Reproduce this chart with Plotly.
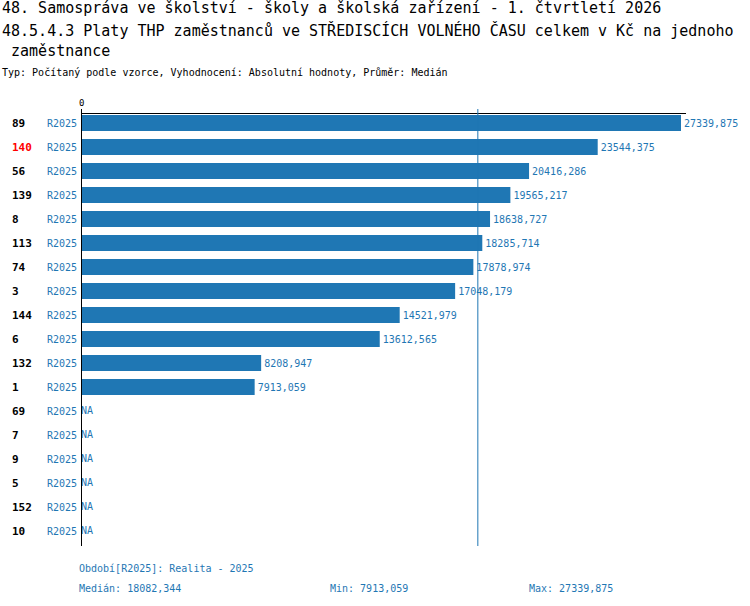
import plotly.graph_objects as go

ids = ["89", "140", "56", "139", "8", "113", "74", "3", "144", "6", "132", "1",
       "69", "7", "9", "5", "152", "10"]
values = [27339.875, 23544.375, 20416.286, 19565.217, 18638.727, 18285.714,
          17878.974, 17048.179, 14521.979, 13612.565, 8208.947, 7913.059,
          None, None, None, None, None, None]
period = "R2025"
highlight = "140"
median = 18082.344
vmin = 7913.059
vmax = 27339.875

BLUE = "#1f77b4"
FONT = "DejaVu Sans Mono"

def fmt(v):
    return f"{v:.3f}".replace(".", ",")

has = [(i, v) for i, v in zip(ids, values) if v is not None]
na = [i for i, v in zip(ids, values) if v is None]

fig = go.Figure()
fig.add_trace(go.Bar(
    orientation="h",
    y=[i for i, _ in has], x=[v for _, v in has],
    marker=dict(color=BLUE, line=dict(width=0)),
    width=0.667,
    text=[fmt(v) for _, v in has], textposition="outside",
    textfont=dict(family=FONT, size=10, color=BLUE),
    constraintext="none", cliponaxis=False,
    hoverinfo="skip",
))
fig.add_trace(go.Scatter(
    x=[0] * len(na), y=na, mode="text", text=["NA"] * len(na),
    textposition="middle right",
    textfont=dict(family=FONT, size=10, color=BLUE),
    cliponaxis=False, hoverinfo="skip",
))

L, R, T, B = 81, 64, 114, 60
W, H = 750, 606
pw, ph = W - L - R, H - T - B

def px(xp):
    return (xp - L) / pw

def py(yp):
    return (H - B - yp) / ph

# median line
fig.add_shape(type="line", xref="x", yref="paper", x0=median, x1=median,
              y0=0, y1=py(109), line=dict(color=BLUE, width=1))
# left axis line
fig.add_shape(type="line", xref="x", yref="paper", x0=0, x1=0,
              y0=0, y1=py(109), line=dict(color="black", width=2))

ann = []
for k, i in enumerate(ids):
    ann.append(dict(x=px(10), xref="paper", y=k, yref="y", text=f"<b>{i}</b>",
                    showarrow=False, xanchor="left", yanchor="middle",
                    font=dict(family=FONT, size=11,
                              color="#ff0000" if i == highlight else "black")))

titles = [
    (8, 0, "48. Samospráva ve školství - školy a školská zařízení - 1. čtvrtletí 2026", 15),
    (30, 0, "48.5.4.3 Platy THP zaměstnanců ve STŘEDISCÍCH VOLNÉHO ČASU celkem v Kč na jednoho", 15),
    (51, 0, " zaměstnance", 15),
]
for yy, xx, t, s in titles:
    ann.append(dict(x=px(xx), xref="paper", y=py(yy), yref="paper", text=t,
                    showarrow=False, xanchor="left", yanchor="middle",
                    font=dict(family=FONT, size=s, color="black")))
ann.append(dict(x=px(0), xref="paper", y=py(73), yref="paper",
                text="Typ: Počítaný podle vzorce, Vyhodnocení: Absolutní hodnoty, Průměr: Medián",
                showarrow=False, xanchor="left", yanchor="middle",
                font=dict(family=FONT, size=10, color="black")))
ann.append(dict(x=0, xref="x", y=py(103), yref="paper", text="0",
                showarrow=False, xanchor="center", yanchor="middle",
                font=dict(family=FONT, size=9, color="black")))
footer = [
    (77, 568, f"Období[{period}]: Realita - 2025"),
    (77, 588, f"Medián: {fmt(median)}"),
    (328, 588, f"Min: {fmt(vmin)}"),
    (527, 588, f"Max: {fmt(vmax)}"),
]
for xx, yy, t in footer:
    ann.append(dict(x=px(xx), xref="paper", y=py(yy), yref="paper", text=t,
                    showarrow=False, xanchor="left", yanchor="middle",
                    font=dict(family=FONT, size=10, color=BLUE)))

fig.update_layout(
    width=W, height=H,
    margin=dict(l=L, r=R, t=T, b=B, autoexpand=False),
    plot_bgcolor="white", paper_bgcolor="white",
    showlegend=False,
    font=dict(family=FONT, size=10),
    annotations=ann,
    xaxis=dict(range=[0, vmax * 605 / 600], side="top", showgrid=False,
               zeroline=False, showline=True, linecolor="black", linewidth=1,
               showticklabels=False, ticks="", fixedrange=True, automargin=False),
    yaxis=dict(type="category", categoryorder="array", categoryarray=ids,
               range=[len(ids) - 0.375, -0.375], tickvals=ids,
               ticktext=[period] * len(ids), ticks="", showgrid=False,
               zeroline=False, showline=False, automargin=False,
               tickfont=dict(family=FONT, size=10, color=BLUE), ticklabelstandoff=3),
)

fig.write_html(
    "out.html",
    config={"displayModeBar": False},
    post_script="document.body.style.margin='0';document.body.style.overflow='hidden';",
)
